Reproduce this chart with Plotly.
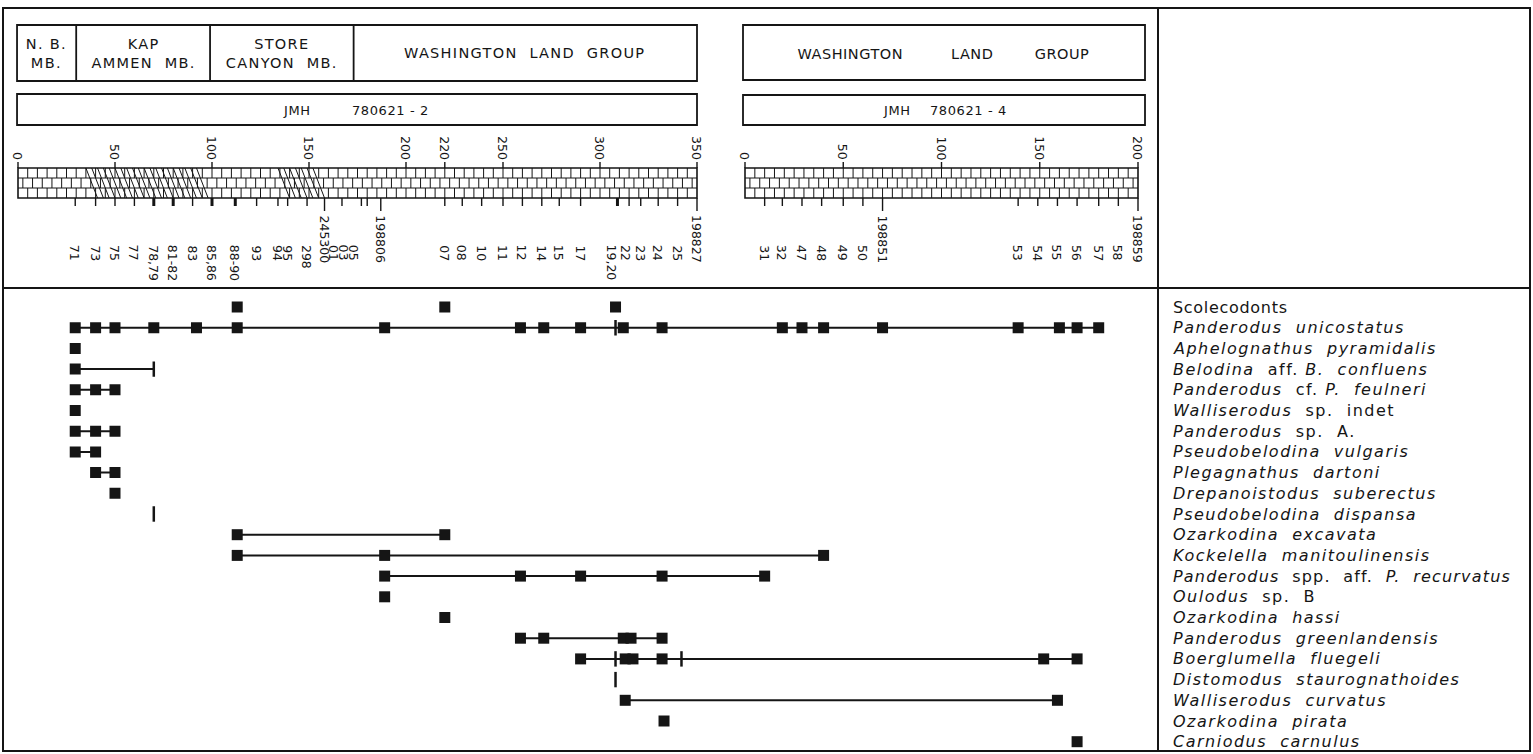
import json
import plotly.graph_objects as go

W, H = 1533, 754
INK = "#151515"
FONT = "DejaVu Sans"

# ------------------------------------------------------------------ data
SPECIES = [
    "Scolecodonts",
    "Panderodus unicostatus",
    "Aphelognathus pyramidalis",
    "Belodina aff. B. confluens",
    "Panderodus cf. P. feulneri",
    "Walliserodus sp. indet",
    "Panderodus sp. A.",
    "Pseudobelodina vulgaris",
    "Plegagnathus dartoni",
    "Drepanoistodus suberectus",
    "Pseudobelodina dispansa",
    "Ozarkodina excavata",
    "Kockelella manitoulinensis",
    "Panderodus spp. aff. P. recurvatus",
    "Oulodus sp. B",
    "Ozarkodina hassi",
    "Panderodus greenlandensis",
    "Boerglumella fluegeli",
    "Distomodus staurognathoides",
    "Walliserodus curvatus",
    "Ozarkodina pirata",
    "Carniodus carnulus",
]
SPECIES_LABELS = [
    "Scolecodonts",
    "<i>Panderodus  unicostatus</i>",
    "<i>Aphelognathus  pyramidalis</i>",
    "<i>Belodina</i>  aff. <i>B.  confluens</i>",
    "<i>Panderodus</i>  cf. <i>P.  feulneri</i>",
    "<i>Walliserodus</i>  sp.  indet",
    "<i>Panderodus</i>  sp.  A.",
    "<i>Pseudobelodina  vulgaris</i>",
    "<i>Plegagnathus  dartoni</i>",
    "<i>Drepanoistodus  suberectus</i>",
    "<i>Pseudobelodina  dispansa</i>",
    "<i>Ozarkodina  excavata</i>",
    "<i>Kockelella  manitoulinensis</i>",
    "<i>Panderodus</i>  spp.  aff.  <i>P.  recurvatus</i>",
    "<i>Oulodus</i>  sp.  B",
    "<i>Ozarkodina  hassi</i>",
    "<i>Panderodus  greenlandensis</i>",
    "<i>Boerglumella  fluegeli</i>",
    "<i>Distomodus  staurognathoides</i>",
    "<i>Walliserodus  curvatus</i>",
    "<i>Ozarkodina  pirata</i>",
    "<i>Carniodus  carnulus</i>",
]
# Scolecodonts are shown as isolated finds, not as a range
RANGE_LINE = [False] + [True] * 21

# section JMH 780621-2 (metres)
S1_SAMPLES = ["71", "73", "75", "77", "78,79", "81-82", "83", "85,86", "88-90", "93",
              "94", "95", "298", "245300", "01", "03", "05", "198806", "07", "08",
              "10", "11", "12", "14", "15", "17", "19,20", "22", "23", "24", "25", "198827"]
S1_HEIGHTS = [29.5, 40, 50, 60, 70, 80, 90, 100, 112, 123,
              134, 139, 149, 158, 167, 177, 180, 187, 220, 229,
              239, 250, 260, 270, 279, 290, 309, 315, 321, 330, 340, 350]
# section JMH 780621-4 (metres)
S2_SAMPLES = ["31", "32", "47", "48", "49", "50", "198851",
              "53", "54", "55", "56", "57", "58", "198859"]
S2_HEIGHTS = [10, 19, 29, 39, 50, 60, 70, 139, 149, 159, 169, 180, 190, 200]

S1_SCALE = [0, 50, 100, 150, 200, 220, 250, 300, 350]
S2_SCALE = [0, 50, 100, 150, 200]

FORMATIONS = ["N. B.<br>MB.", "KAP<br>AMMEN&nbsp; MB.", "STORE<br>CANYON&nbsp; MB.",
              "WASHINGTON&nbsp; LAND&nbsp; GROUP"]
FORMATION_BOUNDS = [-0.5, 30, 99, 173, 350]
DOLOMITE_S1 = [(35, 100), (134, 159)]

# occurrences (metres): squares and short bars, per species
SQ_S1 = [
    [113, 220, 308],
    [29.5, 40, 50, 70, 92, 113, 189, 259, 271, 290, 312, 332],
    [29.5],
    [29.5],
    [29.5, 40, 50],
    [29.5],
    [29.5, 40, 50],
    [29.5, 40],
    [40, 50],
    [50],
    [],
    [113, 220],
    [113, 189],
    [189, 259, 290, 332],
    [189],
    [220],
    [259, 271, 312, 316, 332],
    [290, 313, 317, 332],
    [],
    [313],
    [333],
    [],
]
SQ_S2 = [[], [19, 29, 40, 70, 139, 160, 169, 180], [], [], [], [], [], [], [], [], [],
         [], [40], [10], [], [], [], [152, 169], [], [159], [], [169]]
BAR_S1 = [[], [308], [], [70], [], [], [], [], [], [], [70],
          [], [], [], [], [], [], [308, 342], [308], [], [], []]

# ------------------------------------------------------------------ geometry
K1 = 1.94                 # px per metre, section 1
X0PX = 18                 # pixel of 0 m
S2_PX0, S2_PX1 = 745, 1138
S2_OFF = (S2_PX0 - X0PX) / K1
S2_K = (S2_PX1 - S2_PX0) / K1 / 200.0
XR = [-X0PX / K1, (W - X0PX) / K1]


def x1(m):
    return m


def x2(m):
    return S2_OFF + m * S2_K


def nb(s):
    return s.replace("  ", "&nbsp; ")


BAR_T, BAR_B = 168, 198
ROW0, ROWH = 307, 20.7
n = len(SPECIES)
top_px = ROW0 - ROWH / 2
bot_px = top_px + n * ROWH

fig = go.Figure()

# ---------------- lithology column (pattern) on pixel y-axis
bx, by = [], []
hx, hy = [], []


def seg(L, M, xa, ya, xb, yb):
    L.extend([xa, xb, None])
    M.extend([ya, yb, None])


def bricks(a, b, step):
    rows = [(BAR_T, 178), (178, 188), (188, BAR_B)]
    for r, (t, bt) in enumerate(rows):
        v = a + (step / 2 if r == 1 else step)
        while v < b - 1e-6:
            seg(bx, by, v, t, v, bt)
            v += step
    seg(bx, by, a, 178, b, 178)
    seg(bx, by, a, 188, b, 188)


bricks(x1(0), x1(350), 5.0)
bricks(x2(0), x2(200), 5.0 * S2_K)

for a, b in DOLOMITE_S1:
    lean, step = 6.0, 3.0
    v = a
    while v + lean <= b + 1e-6:
        seg(hx, hy, v, BAR_T, v + lean, BAR_B)
        v += step

fig.add_trace(go.Scatter(x=bx, y=by, mode="lines", line=dict(color=INK, width=1),
                         hoverinfo="skip", showlegend=False, xaxis="x", yaxis="y"))
fig.add_trace(go.Scatter(x=hx, y=hy, mode="lines", line=dict(color=INK, width=1),
                         hoverinfo="skip", showlegend=False, xaxis="x", yaxis="y"))

# sample ticks and scale dashes
tx, ty, tkx, tky = [], [], [], []
for lab, m in zip(S1_SAMPLES, S1_HEIGHTS):
    L, M = (tkx, tky) if ("," in lab or "-" in lab) else (tx, ty)
    seg(L, M, x1(m), BAR_B, x1(m), 211 if len(lab) >= 6 else 206)
for lab, m in zip(S2_SAMPLES, S2_HEIGHTS):
    seg(tx, ty, x2(m), BAR_B, x2(m), 211 if len(lab) >= 6 else 206)
for m in S1_SCALE:
    seg(tx, ty, x1(m), 162, x1(m), BAR_T)
for m in S2_SCALE:
    seg(tx, ty, x2(m), 162, x2(m), BAR_T)
fig.add_trace(go.Scatter(x=tx, y=ty, mode="lines", line=dict(color=INK, width=1.4),
                         hoverinfo="skip", showlegend=False, xaxis="x", yaxis="y"))
fig.add_trace(go.Scatter(x=tkx, y=tky, mode="lines", line=dict(color=INK, width=3),
                         hoverinfo="skip", showlegend=False, xaxis="x", yaxis="y"))

# ---------------- range chart on categorical y-axis
lx, ly, sx, sy, kx, ky = [], [], [], [], [], []
for i, name in enumerate(SPECIES):
    xs_sq = [x1(v) for v in SQ_S1[i]] + [x2(v) for v in SQ_S2[i]]
    xs_bar = [x1(v) for v in BAR_S1[i]]
    allx = xs_sq + xs_bar
    if RANGE_LINE[i] and len(allx) > 1:
        lx.extend([min(allx), max(allx), None])
        ly.extend([name, name, None])
    sx.extend(xs_sq)
    sy.extend([name] * len(xs_sq))
    kx.extend(xs_bar)
    ky.extend([name] * len(xs_bar))

fig.add_trace(go.Scatter(x=lx, y=ly, mode="lines", line=dict(color=INK, width=2),
                         hoverinfo="skip", showlegend=False, xaxis="x", yaxis="y2"))
fig.add_trace(go.Scatter(x=kx, y=ky, mode="markers",
                         marker=dict(symbol="line-ns", size=11, line=dict(color=INK, width=2.5)),
                         hoverinfo="skip", showlegend=False, xaxis="x", yaxis="y2"))
fig.add_trace(go.Scatter(x=sx, y=sy, mode="markers",
                         marker=dict(symbol="square", size=11, color=INK, line=dict(width=0)),
                         hoverinfo="skip", showlegend=False, xaxis="x", yaxis="y2"))

# ---------------- frames / boxes
shapes = []


def prect(x0, y0, x1_, y1_, w=1.8):
    shapes.append(dict(type="rect", xref="paper", yref="y", x0=x0 / W, x1=x1_ / W,
                       y0=y0, y1=y1_, line=dict(color=INK, width=w)))


def pline(x0, y0, x1_, y1_, w=1.8):
    shapes.append(dict(type="line", xref="paper", yref="y", x0=x0 / W, x1=x1_ / W,
                       y0=y0, y1=y1_, line=dict(color=INK, width=w)))


prect(3, 8, 1530, 751, 2)
pline(1158, 8, 1158, 751, 2)
pline(3, 288, 1530, 288, 2)

# section 1 header
shapes.append(dict(type="rect", xref="x", yref="y", x0=FORMATION_BOUNDS[0], x1=FORMATION_BOUNDS[-1],
                   y0=25, y1=81, line=dict(color=INK, width=1.8)))
for b in FORMATION_BOUNDS[1:-1]:
    shapes.append(dict(type="line", xref="x", yref="y", x0=b, x1=b, y0=25, y1=81,
                       line=dict(color=INK, width=1.8)))
shapes.append(dict(type="rect", xref="x", yref="y", x0=FORMATION_BOUNDS[0], x1=FORMATION_BOUNDS[-1],
                   y0=94, y1=125, line=dict(color=INK, width=1.8)))
# section 2 header
prect(743, 25, 1145, 80)
prect(743, 95, 1145, 125)
# lithology bars
shapes.append(dict(type="rect", xref="x", yref="y", x0=x1(0), x1=x1(350), y0=BAR_T, y1=BAR_B,
                   line=dict(color=INK, width=1.6)))
shapes.append(dict(type="rect", xref="x", yref="y", x0=x2(0), x1=x2(200), y0=BAR_T, y1=BAR_B,
                   line=dict(color=INK, width=1.6)))

# ---------------- text
ann = []
spacing = {}


def text(x, y, s, size=15, xref="paper", yref="y", xanchor="center", yanchor="middle",
         angle=0, align="center", ls=None):
    if ls is not None:
        spacing[len(ann)] = ls
    ann.append(dict(x=x, y=y, xref=xref, yref=yref, text=s, showarrow=False,
                    xanchor=xanchor, yanchor=yanchor, textangle=angle, align=align,
                    font=dict(family=FONT, size=size, color=INK)))


for lab, a, b in zip(FORMATIONS, FORMATION_BOUNDS[:-1], FORMATION_BOUNDS[1:]):
    text((a + b) / 2, 53, lab, size=14.5, xref="x", ls=1.3)
text(297 / W, 110, "JMH", size=13, ls=0.6)
text(350 / W, 110, "780621&nbsp;-&nbsp;2", size=13, xanchor="left", align="left", ls=0.6)
text(850 / W, 54, "WASHINGTON", size=14.5, ls=0.5)
text(972 / W, 54, "LAND", size=14.5, ls=0.5)
text(1062 / W, 54, "GROUP", size=14.5, ls=0.5)
text(897 / W, 110, "JMH", size=13, ls=0.6)
text(928 / W, 110, "780621&nbsp;-&nbsp;4", size=13, xanchor="left", align="left", ls=0.6)

for m in S1_SCALE:
    text(x1(m), 162, str(m), size=12.5, xref="x", yanchor="bottom", angle=90)
for m in S2_SCALE:
    text(x2(m), 162, str(m), size=12.5, xref="x", yanchor="bottom", angle=90)

NUDGE = {"01": -8, "03": -17, "05": -13, "19,20": -5, "22": -3}
for lab, m in zip(S1_SAMPLES, S1_HEIGHTS):
    xx = x1(m) + NUDGE.get(lab, 0) / K1
    text(xx, 213 if len(lab) >= 6 else 243, lab, size=12.5, xref="x", yanchor="top", angle=90)
for lab, m in zip(S2_SAMPLES, S2_HEIGHTS):
    text(x2(m), 213 if len(lab) >= 6 else 243, lab, size=12.5, xref="x", yanchor="top", angle=90)

LEGEND_LS = {"Scolecodonts": 0.7, "Panderodus spp. aff. P. recurvatus": 1.2}
for name, lab in zip(SPECIES, SPECIES_LABELS):
    text(1171 / W, name, nb(lab), size=16, yref="y2", xanchor="left", align="left",
         ls=LEGEND_LS.get(name, 1.5))

fig.update_layout(
    width=W, height=H, margin=dict(l=0, r=0, t=0, b=0),
    paper_bgcolor="white", plot_bgcolor="rgba(0,0,0,0)",
    xaxis=dict(range=XR, domain=[0, 1], visible=False, fixedrange=True),
    yaxis=dict(range=[H, 0], domain=[0, 1], visible=False, fixedrange=True),
    yaxis2=dict(type="category", categoryorder="array", categoryarray=SPECIES,
                range=[n - 0.5, -0.5], domain=[1 - bot_px / H, 1 - top_px / H],
                visible=False, fixedrange=True, anchor="x"),
    shapes=shapes, annotations=ann, showlegend=False,
)

post = (
    "document.body.style.margin='0';"
    "var gd=document.getElementById('{plot_id}');"
    "var sp=" + json.dumps({str(k): v for k, v in spacing.items()}) + ";"
    "Object.keys(sp).forEach(function(i){"
    "var t=gd.querySelector('g.annotation[data-index=\"'+i+'\"] text');"
    "if(t){t.style.letterSpacing=sp[i]+'px';}});"
)
fig.write_html("out.html", config={"displayModeBar": False}, post_script=post)
